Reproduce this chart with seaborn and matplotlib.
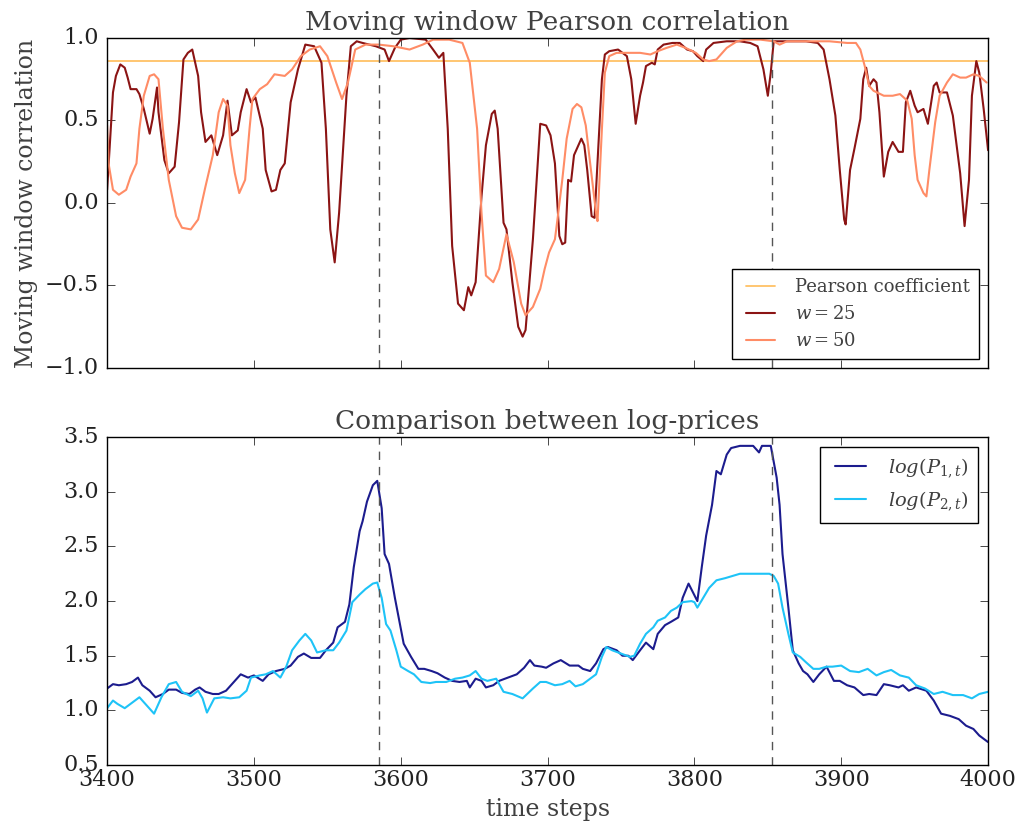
import numpy as np
import pandas as pd
import matplotlib
matplotlib.use("Agg")
import matplotlib.pyplot as plt
import seaborn as sns

# ---------------- data ----------------
pearson_coef = 0.86
peak_times = [3585, 3853]

w25_t = [3400, 3404, 3406, 3409, 3412, 3414, 3416, 3420, 3422, 3425, 3429, 3431, 3434, 3435,
         3439, 3442, 3446, 3449, 3452, 3455, 3458, 3462, 3464, 3467, 3471, 3475, 3479, 3482,
         3485, 3489, 3491, 3495, 3498, 3501, 3506, 3508, 3512, 3515, 3518, 3521, 3525, 3530,
         3535, 3541, 3546, 3549, 3552, 3555, 3558, 3563, 3566, 3570, 3574, 3583, 3589, 3592,
         3596, 3600, 3606, 3617, 3622, 3626, 3629, 3632, 3635, 3639, 3643, 3646, 3648, 3651,
         3655, 3658, 3662, 3664, 3666, 3670, 3672, 3676, 3680, 3683, 3685, 3690, 3695, 3699,
         3702, 3705, 3708, 3710, 3712, 3714, 3716, 3718, 3723, 3725, 3727, 3730, 3732, 3734,
         3737, 3739, 3742, 3748, 3754, 3757, 3760, 3763, 3765, 3767, 3771, 3773, 3775, 3779,
         3785, 3790, 3795, 3799, 3802, 3806, 3808, 3813, 3822, 3831, 3838, 3843, 3847, 3850,
         3852, 3854, 3858, 3867, 3876, 3884, 3888, 3892, 3896, 3899, 3902, 3903, 3906, 3909,
         3913, 3915, 3917, 3919, 3922, 3924, 3926, 3929, 3932, 3935, 3939, 3942, 3944, 3947,
         3950, 3952, 3956, 3959, 3963, 3965, 3967, 3972, 3976, 3981, 3984, 3987, 3989, 3992,
         3994, 3997, 4000]
w25_v = [0.08, 0.67, 0.77, 0.84, 0.82, 0.76, 0.69, 0.69, 0.66, 0.57, 0.42, 0.51, 0.70, 0.55,
         0.26, 0.18, 0.22, 0.49, 0.87, 0.91, 0.93, 0.77, 0.55, 0.37, 0.41, 0.29, 0.41, 0.62,
         0.41, 0.44, 0.55, 0.69, 0.61, 0.64, 0.45, 0.20, 0.07, 0.08, 0.20, 0.24, 0.61, 0.81,
         0.96, 0.95, 0.85, 0.45, -0.16, -0.36, -0.06, 0.65, 0.95, 0.98, 0.97, 0.95, 0.93, 0.86,
         0.94, 0.99, 1.00, 0.99, 0.93, 0.88, 0.91, 0.45, -0.26, -0.61, -0.65, -0.51, -0.56, -0.48,
         0.04, 0.35, 0.54, 0.56, 0.45, -0.12, -0.16, -0.48, -0.75, -0.81, -0.77, -0.22, 0.48, 0.47,
         0.41, 0.24, -0.20, -0.25, -0.24, 0.14, 0.13, 0.29, 0.39, 0.35, 0.20, -0.08, -0.09, 0.25,
         0.75, 0.90, 0.92, 0.93, 0.89, 0.75, 0.48, 0.65, 0.73, 0.83, 0.85, 0.84, 0.93, 0.96,
         0.97, 0.97, 0.93, 0.92, 0.89, 0.86, 0.93, 0.97, 0.98, 0.98, 0.97, 0.95, 0.81, 0.65,
         0.79, 0.98, 0.98, 0.98, 0.98, 0.97, 0.93, 0.75, 0.53, 0.20, -0.10, -0.13, 0.20, 0.33,
         0.51, 0.75, 0.82, 0.71, 0.75, 0.73, 0.55, 0.16, 0.31, 0.37, 0.31, 0.31, 0.61, 0.68,
         0.59, 0.55, 0.57, 0.48, 0.71, 0.73, 0.67, 0.67, 0.53, 0.18, -0.14, 0.14, 0.65, 0.86,
         0.79, 0.57, 0.32]

w50_t = [3400, 3401, 3404, 3408, 3413, 3416, 3420, 3422, 3425, 3429, 3432, 3435, 3438, 3442,
         3447, 3451, 3457, 3462, 3467, 3472, 3476, 3479, 3482, 3484, 3487, 3490, 3494, 3497,
         3499, 3504, 3509, 3514, 3521, 3526, 3532, 3538, 3545, 3550, 3556, 3560, 3564, 3569,
         3576, 3585, 3595, 3606, 3615, 3622, 3633, 3642, 3647, 3652, 3655, 3658, 3663, 3667,
         3672, 3677, 3682, 3685, 3690, 3695, 3698, 3701, 3705, 3707, 3710, 3713, 3717, 3720,
         3723, 3726, 3729, 3733, 3734, 3737, 3739, 3742, 3747, 3754, 3763, 3770, 3775, 3781,
         3788, 3794, 3801, 3806, 3810, 3815, 3822, 3829, 3835, 3845, 3854, 3858, 3863, 3876,
         3892, 3904, 3910, 3913, 3916, 3919, 3922, 3929, 3935, 3940, 3945, 3948, 3950, 3952,
         3956, 3958, 3960, 3964, 3967, 3972, 3976, 3981, 3985, 3990, 3994, 3999]
w50_v = [0.47, 0.24, 0.08, 0.05, 0.08, 0.16, 0.24, 0.45, 0.65, 0.77, 0.78, 0.75, 0.45, 0.14,
         -0.08, -0.15, -0.16, -0.10, 0.10, 0.29, 0.55, 0.63, 0.59, 0.35, 0.18, 0.06, 0.14, 0.45,
         0.63, 0.69, 0.72, 0.78, 0.77, 0.81, 0.89, 0.93, 0.95, 0.89, 0.73, 0.63, 0.73, 0.93,
         0.96, 0.96, 0.95, 0.93, 0.96, 0.99, 0.99, 0.97, 0.85, 0.45, -0.06, -0.44, -0.48, -0.40,
         -0.19, -0.36, -0.61, -0.68, -0.63, -0.52, -0.40, -0.30, -0.22, -0.08, 0.14, 0.39, 0.57, 0.60,
         0.58, 0.47, 0.24, -0.06, -0.11, 0.45, 0.79, 0.89, 0.91, 0.91, 0.91, 0.90, 0.92, 0.94,
         0.96, 0.94, 0.91, 0.87, 0.86, 0.87, 0.94, 0.98, 0.99, 0.99, 0.98, 0.96, 0.98, 0.98,
         0.98, 0.97, 0.97, 0.93, 0.83, 0.71, 0.68, 0.65, 0.65, 0.66, 0.62, 0.51, 0.29, 0.14,
         0.06, 0.04, 0.20, 0.49, 0.65, 0.73, 0.78, 0.76, 0.76, 0.78, 0.77, 0.73]

p1_t = [3400, 3404, 3408, 3413, 3417, 3421, 3424, 3429, 3433, 3438,
        3442, 3447, 3451, 3456, 3460, 3463, 3467, 3472, 3476, 3481,
        3485, 3491, 3496, 3500, 3506, 3510, 3515, 3521, 3525, 3530,
        3534, 3539, 3545, 3549, 3554, 3557, 3562, 3565, 3568, 3572,
        3574, 3577, 3581, 3584, 3587, 3589, 3592, 3596, 3599, 3602,
        3607, 3612, 3616, 3621, 3625, 3630, 3635, 3640, 3645, 3647,
        3651, 3655, 3658, 3663, 3667, 3673, 3679, 3684, 3688, 3691,
        3696, 3699, 3704, 3709, 3715, 3721, 3724, 3729, 3733, 3738,
        3741, 3747, 3751, 3755, 3758, 3763, 3767, 3772, 3775, 3780,
        3784, 3789, 3792, 3796, 3799, 3802, 3805, 3808, 3812, 3815,
        3818, 3822, 3825, 3831, 3840, 3844, 3846, 3852, 3856, 3858,
        3860, 3864, 3867, 3871, 3874, 3877, 3881, 3885, 3890, 3895,
        3899, 3904, 3909, 3915, 3919, 3924, 3929, 3933, 3939, 3942,
        3946, 3951, 3958, 3963, 3968, 3974, 3980, 3985, 3990, 3994,
        3998, 4000]
p1_v = [1.20, 1.24, 1.23, 1.24, 1.26, 1.30, 1.23, 1.18, 1.12, 1.15,
        1.19, 1.19, 1.16, 1.15, 1.19, 1.21, 1.17, 1.15, 1.15, 1.18,
        1.24, 1.33, 1.30, 1.32, 1.27, 1.33, 1.36, 1.38, 1.41, 1.49,
        1.52, 1.48, 1.48, 1.55, 1.62, 1.76, 1.81, 1.97, 2.31, 2.64,
        2.73, 2.91, 3.06, 3.10, 2.85, 2.43, 2.34, 2.03, 1.82, 1.61,
        1.49, 1.38, 1.38, 1.36, 1.34, 1.30, 1.27, 1.26, 1.27, 1.21,
        1.29, 1.27, 1.21, 1.23, 1.27, 1.30, 1.33, 1.39, 1.46, 1.41,
        1.40, 1.39, 1.43, 1.46, 1.41, 1.41, 1.38, 1.36, 1.43, 1.56,
        1.58, 1.55, 1.50, 1.50, 1.46, 1.55, 1.62, 1.56, 1.70, 1.78,
        1.81, 1.85, 2.03, 2.16, 2.08, 2.00, 2.31, 2.60, 2.88, 3.19,
        3.16, 3.34, 3.40, 3.42, 3.42, 3.36, 3.42, 3.42, 3.13, 2.88,
        2.43, 1.94, 1.55, 1.43, 1.36, 1.33, 1.26, 1.33, 1.40, 1.27,
        1.27, 1.23, 1.21, 1.14, 1.15, 1.14, 1.24, 1.23, 1.21, 1.23,
        1.18, 1.21, 1.18, 1.09, 0.97, 0.95, 0.92, 0.86, 0.83, 0.77,
        0.73, 0.71]

p2_t = [3400, 3404, 3407, 3412, 3416, 3422, 3426, 3432, 3437, 3442,
        3447, 3451, 3457, 3462, 3465, 3468, 3473, 3479, 3484, 3490,
        3495, 3498, 3504, 3508, 3513, 3518, 3522, 3526, 3531, 3535,
        3539, 3543, 3549, 3554, 3558, 3563, 3567, 3572, 3576, 3581,
        3584, 3587, 3590, 3593, 3597, 3600, 3605, 3609, 3614, 3620,
        3624, 3631, 3637, 3642, 3647, 3651, 3655, 3659, 3665, 3670,
        3676, 3683, 3690, 3695, 3699, 3705, 3710, 3715, 3719, 3724,
        3729, 3733, 3737, 3740, 3744, 3750, 3756, 3759, 3763, 3767,
        3772, 3775, 3780, 3784, 3788, 3792, 3798, 3800, 3802, 3806,
        3810, 3815, 3821, 3826, 3831, 3840, 3847, 3851, 3854, 3857,
        3860, 3864, 3867, 3872, 3876, 3881, 3885, 3890, 3894, 3900,
        3906, 3912, 3918, 3924, 3929, 3934, 3940, 3946, 3951, 3957,
        3963, 3969, 3976, 3983, 3989, 3994, 4000]
p2_v = [1.02, 1.09, 1.06, 1.02, 1.06, 1.12, 1.06, 0.97, 1.12, 1.24,
        1.26, 1.17, 1.13, 1.18, 1.11, 0.98, 1.11, 1.12, 1.11, 1.12,
        1.18, 1.30, 1.32, 1.33, 1.36, 1.30, 1.40, 1.55, 1.64, 1.70,
        1.64, 1.53, 1.55, 1.55, 1.62, 1.73, 1.99, 2.06, 2.11, 2.16,
        2.17, 2.03, 1.79, 1.73, 1.55, 1.40, 1.36, 1.33, 1.26, 1.25,
        1.26, 1.26, 1.29, 1.30, 1.32, 1.36, 1.29, 1.27, 1.29, 1.17,
        1.15, 1.11, 1.20, 1.26, 1.26, 1.23, 1.24, 1.27, 1.22, 1.24,
        1.29, 1.33, 1.49, 1.58, 1.55, 1.52, 1.49, 1.50, 1.61, 1.70,
        1.76, 1.82, 1.85, 1.91, 1.94, 1.99, 2.00, 1.99, 1.94, 2.03,
        2.12, 2.19, 2.21, 2.23, 2.25, 2.25, 2.25, 2.25, 2.23, 2.16,
        1.94, 1.70, 1.53, 1.49, 1.44, 1.38, 1.38, 1.40, 1.40, 1.41,
        1.36, 1.35, 1.38, 1.32, 1.35, 1.37, 1.32, 1.30, 1.23, 1.20,
        1.15, 1.17, 1.14, 1.14, 1.11, 1.15, 1.17]

# ---------------- styling ----------------
plt.style.use("classic")
sns.set_style("ticks")
plt.rcParams.update({
    "font.family": ["DejaVu Serif"],
    "mathtext.fontset": "dejavuserif",
    "xtick.direction": "in",
    "ytick.direction": "in",
    "xtick.top": True,
    "ytick.right": True,
    "xtick.major.size": 6,
    "ytick.major.size": 6,
    "xtick.major.pad": 3,
    "ytick.major.pad": 6,
    "axes.edgecolor": "black",
    "axes.linewidth": 1.0,
    "axes.facecolor": "white",
    "figure.facecolor": "white",
})

text_col = "#404040"
c_pearson = "#FFC266"
c_w25 = "#8B1414"
c_w50 = "#FF8C66"
c_p1 = "#1C1C8E"
c_p2 = "#1EC3F7"

fig = plt.figure(figsize=(10.2, 8.26), dpi=100)
ax1 = fig.add_axes([0.105, 0.5545, 0.8637, 0.3995])
ax2 = fig.add_axes([0.105, 0.0738, 0.8637, 0.3970], sharex=ax1)

df25 = pd.DataFrame({"t": w25_t, "v": w25_v})
df50 = pd.DataFrame({"t": w50_t, "v": w50_v})
dfp1 = pd.DataFrame({"t": p1_t, "v": p1_v})
dfp2 = pd.DataFrame({"t": p2_t, "v": p2_v})

ax1.axhline(pearson_coef, color=c_pearson, lw=1.3, label="Pearson coefficient")
sns.lineplot(data=df25, x="t", y="v", ax=ax1, color=c_w25, lw=1.5, label=r"$w = 25$")
sns.lineplot(data=df50, x="t", y="v", ax=ax1, color=c_w50, lw=1.5, label=r"$w = 50$")
for pt in peak_times:
    ax1.axvline(pt, color="#555555", ls=(0, (6, 5)), lw=1.0)

sns.lineplot(data=dfp1, x="t", y="v", ax=ax2, color=c_p1, lw=1.5, label=r"$log(P_{1,t})$")
sns.lineplot(data=dfp2, x="t", y="v", ax=ax2, color=c_p2, lw=1.5, label=r"$log(P_{2,t})$")
for pt in peak_times:
    ax2.axvline(pt, color="#555555", ls=(0, (6, 5)), lw=1.0)

ax1.set_xlim(3400, 4000)
ax1.set_ylim(-1.0, 1.0)
ax2.set_ylim(0.5, 3.5)
ax1.set_yticks([-1.0, -0.5, 0.0, 0.5, 1.0])
ax2.set_yticks([0.5, 1.0, 1.5, 2.0, 2.5, 3.0, 3.5])
ax2.set_xticks([3400, 3500, 3600, 3700, 3800, 3900, 4000])

plt.setp(ax1.get_xticklabels(), visible=False)
for ax in (ax1, ax2):
    ax.tick_params(labelsize=16, colors="black", labelcolor="#222222")

ax1.set_title("Moving window Pearson correlation", fontsize=19, color=text_col, pad=6)
ax2.set_title("Comparison between log-prices", fontsize=19, color=text_col, pad=6)
ax1.set_ylabel("Moving window correlation", fontsize=17, color=text_col)
ax1.set_xlabel("")
ax2.set_ylabel("")
ax2.set_xlabel("time steps", fontsize=17, color=text_col)

leg1 = ax1.legend(loc="lower right", fontsize=13, frameon=True, fancybox=False,
                  handlelength=2.2, borderpad=0.5, labelspacing=0.5)
leg1.get_frame().set_edgecolor("black")
for t in leg1.get_texts():
    t.set_color(text_col)
leg2 = ax2.legend(loc="upper right", fontsize=14, frameon=True, fancybox=False,
                  handlelength=2.2, borderpad=0.5, labelspacing=0.5)
leg2.get_frame().set_edgecolor("black")
for t in leg2.get_texts():
    t.set_color(text_col)

fig.savefig("out.png", dpi=100)
